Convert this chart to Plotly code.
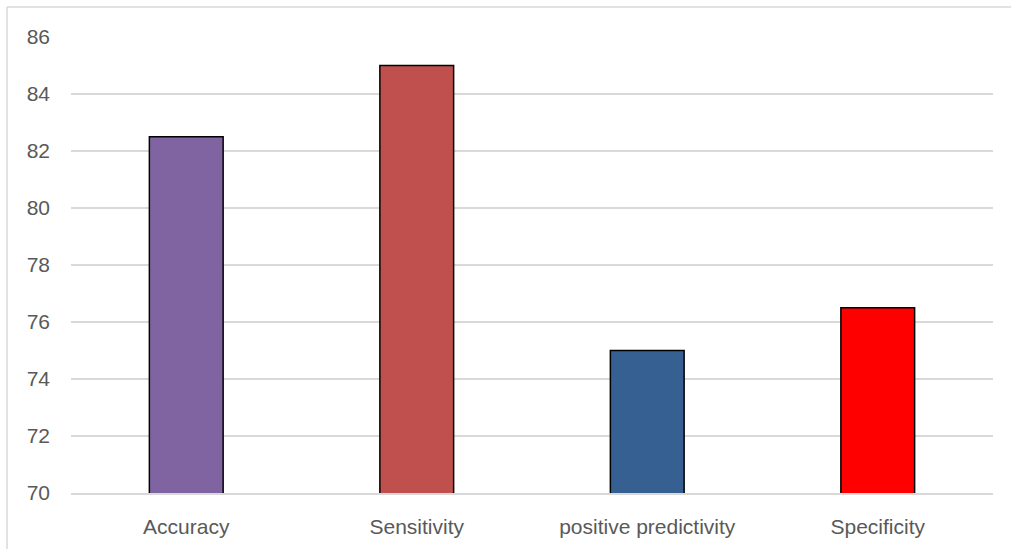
import plotly.graph_objects as go

# Classifier performance metrics (%)
categories = ["Accuracy", "Sensitivity", "positive predictivity", "Specificity"]
values = [82.5, 85.0, 75.0, 76.5]
bar_colors = ["#8064A2", "#C0504D", "#376092", "#FF0000"]

y_ticks = [70, 72, 74, 76, 78, 80, 82, 84, 86]

fig = go.Figure(
    go.Bar(
        x=categories,
        y=values,
        marker=dict(color=bar_colors, line=dict(color="#000000", width=1.5)),
        width=0.32,
    )
)

font_family = "Liberation Sans, Arial, sans-serif"
grid = "#D9D9D9"

fig.update_layout(
    width=1011,
    height=549,
    margin=dict(l=71, r=18, t=37, b=56),
    paper_bgcolor="white",
    plot_bgcolor="white",
    showlegend=False,
    font=dict(family=font_family, size=21, color="#595959"),
    xaxis=dict(
        showgrid=False,
        showline=True,
        linecolor=grid,
        linewidth=1.5,
        ticks="",
        ticklabelstandoff=14,
        tickfont=dict(size=21, color="#595959"),
    ),
    yaxis=dict(
        range=[70, 86],
        tickvals=y_ticks,
        showgrid=True,
        gridcolor=grid,
        gridwidth=1.5,
        zeroline=False,
        showline=False,
        ticks="",
        ticklabelstandoff=20,
        tickfont=dict(size=21, color="#595959"),
    ),
)

# Chart-area frame: only the left and top edges fall inside the page
pw, ph = 1011 - 71 - 18, 549 - 37 - 56
fx0 = (7 - 71) / pw
fx1 = (1011 - 71) / pw + 0.01
fy_top = 1 + (37 - 7) / ph
fy_bot = -(549 - 493) / ph - 0.01
frame = dict(xref="paper", yref="paper", type="line",
             line=dict(color=grid, width=1.5), layer="below")
fig.add_shape(x0=fx0, x1=fx1, y0=fy_top, y1=fy_top, **frame)
fig.add_shape(x0=fx0, x1=fx0, y0=fy_bot, y1=fy_top, **frame)

fig.write_html("out.html")
